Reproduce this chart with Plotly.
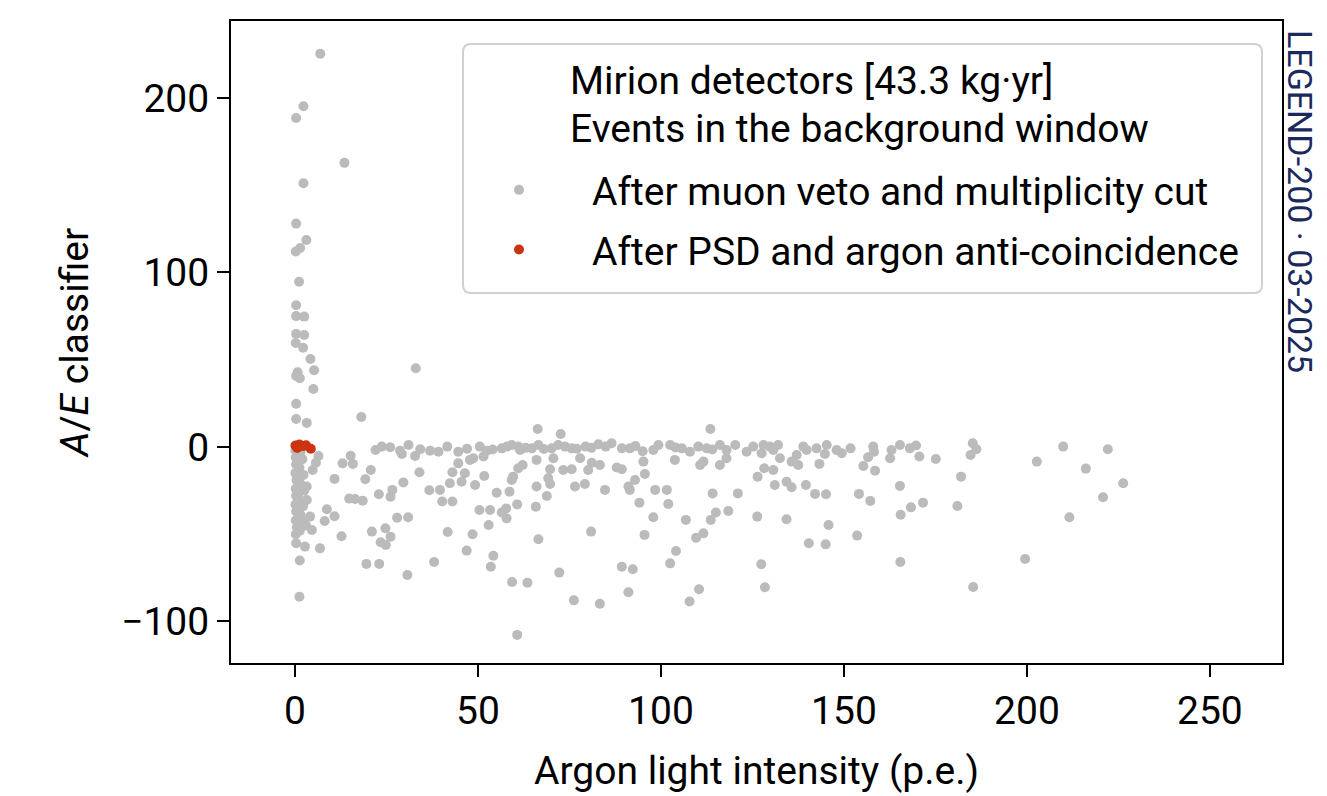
import plotly.graph_objects as go

# ---------------- data ----------------
gray_x = [
    6.9, 2.3, 0.3, 13.5, 2.3, 0.3, 3.1, 1.4, 0.2, 1.1, 0.3, 0.3, 2.5, 0.3, 2.5, 0.2, 2.2, 4.2, 5.2, 0.7,
    0.3, 1.3, 33.0, 5.0, 0.3, 0.3, 3.2, 18.1,
    0.1, 1.5, 0.2, 2.0, 0.3, 1.2, 0.1, 2.3, 0.4, 1.4, 0.2, 2.5, 0.3, 1.1, 0.1, 2.2, 0.3, 1.5, 0.2, 2.4,
    0.5, 1.3, 0.2, 3.0, 0.8, 1.0, 0.9, 0.6,
    6.4, 5.7, 4.8, 3.2, 3.2, 4.1, 4.6, 0.3, 2.7, 6.8, 1.3, 1.2, 10.8, 8.7, 8.1, 10.8, 12.7, 13.0, 15.2,
    15.8, 20.7, 19.2, 14.8, 16.4, 18.5, 22.9, 26.1, 26.6, 29.6, 27.9, 30.9, 21.0, 24.7, 26.1, 23.4, 24.8,
    19.5, 23.0, 30.7, 38.0, 41.7, 34.0, 36.7, 39.6, 40.2, 43.0, 42.3, 43.0,
    22.0, 23.7, 26.0, 28.7, 29.2, 31.0, 32.8, 34.2, 36.9, 39.2, 41.6, 44.6,
    66.3, 72.6, 113.5,
    50.5, 52.4, 56.5, 57.9, 59.2, 61.0, 61.5, 64.7, 66.5, 70.1, 71.9, 73.8, 75.6, 79.4, 82.9, 84.9, 86.5,
    89.3, 91.5, 97.9, 99.3, 102.5, 105.7, 107.9, 110.2, 112.5, 116.1, 117.9, 120.3,
    47.0, 54.0, 63.0, 68.0, 77.0, 81.0, 93.0, 95.0, 104.0, 114.0,
    48.7, 51.5, 44.6, 47.8, 66.0, 70.6, 77.9, 81.1, 83.3, 87.9, 89.3, 95.2, 103.8, 110.7, 111.6, 116.1,
    117.9, 62.2, 61.0, 69.7, 73.3, 75.6, 80.1, 46.4, 45.5, 49.2, 51.7, 59.6, 59.2, 69.2, 69.7, 66.0, 76.5,
    79.2, 84.7, 91.1, 92.9, 91.5, 95.6, 98.4, 101.6, 55.1, 58.6, 50.4, 53.3, 56.5, 57.7, 57.8, 60.7, 65.8,
    68.8, 94.1, 102.0, 114.1, 121.0, 118.4, 115.0, 113.6, 106.8, 97.9, 52.9, 48.5, 66.5, 80.9, 95.5,
    111.6, 109.6, 104.1, 102.5, 46.9, 54.2, 53.5, 72.2, 89.3, 92.3, 59.3, 63.5, 91.1, 110.4, 107.8, 76.2,
    83.3, 60.7,
    123.4, 125.2, 128.0, 127.5, 129.8, 132.0, 132.5, 130.7, 138.9, 139.8, 142.5, 145.3, 144.8, 148.0,
    149.4, 151.8, 137.1, 135.7, 137.5, 143.3, 158.0, 158.2, 156.6, 155.3, 158.5, 163.0, 165.3, 162.6,
    168.0, 169.7, 170.6, 175.1, 185.2, 186.2, 184.6, 182.0, 181.0, 165.3, 165.5, 168.3, 171.6, 165.4,
    185.3, 128.2, 130.7, 126.4, 131.1, 134.3, 135.7, 139.6, 142.1, 145.1, 154.1, 157.2, 126.3, 134.3,
    145.8, 153.6, 140.4, 145.0, 127.4, 128.4,
    202.7, 209.9, 222.1, 216.1, 226.3, 220.8, 211.6, 199.5,
]
gray_y = [
    225.4, 195.2, 188.5, 162.8, 151.1, 128.0, 118.6, 114.0, 112.0, 94.7, 81.2, 75.0, 74.7, 64.8, 64.2,
    59.6, 56.9, 50.4, 44.0, 42.8, 40.7, 39.4, 45.1, 33.2, 24.8, 16.0, 13.8, 17.2,
    -2, -3, -6, -7, -10, -12, -15, -16, -19, -21, -24, -25, -28, -30, -33, -34, -37, -39, -42, -43,
    -46, -48, -50, -45, -8, -18, -27, -36,
    -5.2, -9.0, -13.2, -22.7, -30.4, -39.9, -47.6, -55.2, -57.1, -58.1, -65.1, -85.8, -18.3, -35.7,
    -42.4, -39.7, -51.2, -9.4, -5.0, -9.7, -13.2, -18.5, -29.6, -29.8, -30.8, -27.1, -28.5, -24.6,
    -20.4, -40.5, -40.3, -48.5, -46.6, -51.4, -54.6, -56.2, -67.0, -67.0, -73.4, -65.9, -48.7, -14.5,
    -24.8, -24.6, -31.3, -31.3, -20.8, -14.5,
    -1.7, 0.2, -0.2, -2.1, -4.0, 1.1, -5.2, -1.3, -2.1, -2.7, 0.2, -2.7,
    10.3, 7.4, 10.3,
    0.2, -2.1, -0.8, 0.2, 1.1, 0.2, -1.7, -0.8, 1.1, -0.8, 1.1, 0.2, -0.8, 0.2, 1.5, 0.2, 2.1,
    -0.8, -0.8, -1.7, 1.1, 1.1, -0.8, -2.7, 0.2, -0.8, 1.1, -1.7, 1.1,
    -1.0, -1.5, -0.5, -1.2, -1.0, -0.5, 0.5, -2.5, -0.3, -1.5,
    -6.5, -5.5, -9.4, -7.4, -7.4, -6.5, -6.5, -9.0, -10.3, -11.8, -12.8, -8.4, -7.4, -10.3, -8.4, -10.3,
    -6.5, -10.3, -12.2, -12.8, -13.2, -12.8, -13.2, -15.1, -19.9, -21.8, -16.6, -17.0, -18.9, -17.9,
    -21.2, -22.7, -22.7, -21.2, -24.6, -22.7, -18.9, -24.6, -15.5, -24.6, -24.6, -26.2, -25.6, -36.1,
    -36.1, -37.6, -35.2, -40.9, -32.9, -34.2, -28.1, -31.9, -32.7, -26.6, -26.6, -36.7, -37.6, -41.8,
    -41.8, -40.3, -44.7, -50.0, -52.9, -48.5, -50.4, -49.5, -52.0, -59.6, -66.7, -59.4, -62.3, -68.6,
    -72.0, -68.6, -70.1, -77.4, -77.8, -83.3, -81.5, -88.6, -87.9, -89.8, -107.7,
    -2.7, 0.2, 1.1, -3.6, 0.2, 1.1, -6.5, -1.7, 0.2, -1.7, -0.8, 1.1, -4.0, -1.7, -3.6, -0.8, -4.6, -8.4,
    -10.3, -9.7, 0.2, -2.7, -5.9, -10.9, -13.6, -1.7, 1.1, -6.5, -0.8, 0.8, -5.5, -6.9, 2.1, -1.3, -4.6,
    -17.0, -33.8, -22.3, -38.8, -34.6, -31.9, -65.9, -80.2, -12.2, -13.2, -17.0, -21.8, -19.9, -23.1,
    -21.8, -26.9, -27.1, -26.9, -30.9, -39.9, -41.4, -44.7, -50.8, -55.2, -55.8, -67.2, -80.4,
    -8.4, 0.2, -1.3, -12.4, -20.8, -28.8, -40.3, -64.2,
]
red_x = [0.1, 1.2, 2.2, 3.0, 4.3, 0.6]
red_y = [0.8, 1.4, 0.5, 1.0, -1.0, -0.6]

x_ticks = [0, 50, 100, 150, 200, 250]
y_ticks = [-100, 0, 100, 200]

gray_label = "After muon veto and multiplicity cut"
red_label = "After PSD and argon anti-coincidence"
legend_lines = ["Mirion detectors [43.3 kg·yr]", "Events in the background window"]
watermark = "LEGEND-200 · 03-2025"

# ---------------- figure ----------------
FONT = "Roboto"
FS = 39
OFF = 8                      # page body margin of the html page
W, H = 1327 - OFF, 796 - OFF
PLOT_L, PLOT_R, PLOT_T, PLOT_B = 231, 1282, 21, 663   # target absolute pixels
ML, MT = PLOT_L - OFF, PLOT_T - OFF
MR, MB = W - (PLOT_R - OFF), H - (PLOT_B - OFF)
PW, PH = W - ML - MR, H - MT - MB


def px_x(p):
    return (p - PLOT_L) / PW


def px_y(p):
    return (PLOT_B - p) / PH


fig = go.Figure()
fig.add_trace(go.Scatter(x=gray_x, y=gray_y, mode="markers", name=gray_label,
                         legendgroup="g", marker=dict(color="#BBBBBB", size=10, line=dict(width=0))))
fig.add_trace(go.Scatter(x=red_x, y=red_y, mode="markers", name=red_label,
                         legendgroup="r", marker=dict(color="#CC3311", size=10, line=dict(width=0))))

# legend frame (rounded rectangle)
x0, x1 = px_x(463), px_x(1262)
y0, y1 = px_y(293), px_y(44)
rx, ry = 8 / PW, 8 / PH
path = (f"M{x0+rx},{y0} L{x1-rx},{y0} Q{x1},{y0} {x1},{y0+ry} L{x1},{y1-ry} Q{x1},{y1} {x1-rx},{y1} "
        f"L{x0+rx},{y1} Q{x0},{y1} {x0},{y1-ry} L{x0},{y0+ry} Q{x0},{y0} {x0+rx},{y0} Z")
fig.add_shape(type="path", path=path, xref="paper", yref="paper",
              line=dict(color="#D0D0D0", width=2), fillcolor="rgba(255,255,255,0.8)", layer="above")

for txt, yc in zip(legend_lines, [81, 129]):
    fig.add_annotation(text=txt, xref="paper", yref="paper", x=px_x(568), y=px_y(yc),
                       xanchor="left", yanchor="middle", showarrow=False,
                       font=dict(family=FONT, size=FS, color="black"))

fig.add_annotation(text=watermark, xref="paper", yref="paper", x=px_x(1300), y=px_y(201),
                   xanchor="center", yanchor="middle", showarrow=False, textangle=90,
                   font=dict(family=FONT, size=34, color="#1B2A5C"))

axis_common = dict(showline=True, linecolor="black", linewidth=2, mirror=True,
                   ticks="outside", ticklen=12, tickwidth=2, tickcolor="black",
                   showgrid=False, zeroline=False,
                   tickfont=dict(family=FONT, size=FS, color="black"))

fig.update_layout(
    width=W, height=H,
    margin=dict(l=ML, r=MR, t=MT, b=MB, autoexpand=False),
    paper_bgcolor="white", plot_bgcolor="white",
    font=dict(family=FONT, size=FS, color="black"),
    xaxis=dict(range=[-17.5, 269.7], tickvals=x_ticks, ticktext=[str(v) for v in x_ticks],
               title=dict(text="Argon light intensity (p.e.)", standoff=24,
                          font=dict(family=FONT, size=FS)), **axis_common),
    yaxis=dict(range=[-123.8, 244.1], tickvals=y_ticks,
               ticktext=["\u2212100", "0", "100", "200"],
               title=dict(text="<i>A</i>/<i>E</i> classifier", standoff=20,
                          font=dict(family=FONT, size=FS)), **axis_common),
    showlegend=True,
    legend=dict(x=px_x(446), y=px_y(158), xanchor="left", yanchor="top",
                bgcolor="rgba(0,0,0,0)", borderwidth=0, itemwidth=136,
                tracegroupgap=6, itemsizing="trace",
                font=dict(family=FONT, size=FS, color="black")),
)

fig.write_html("out.html")
